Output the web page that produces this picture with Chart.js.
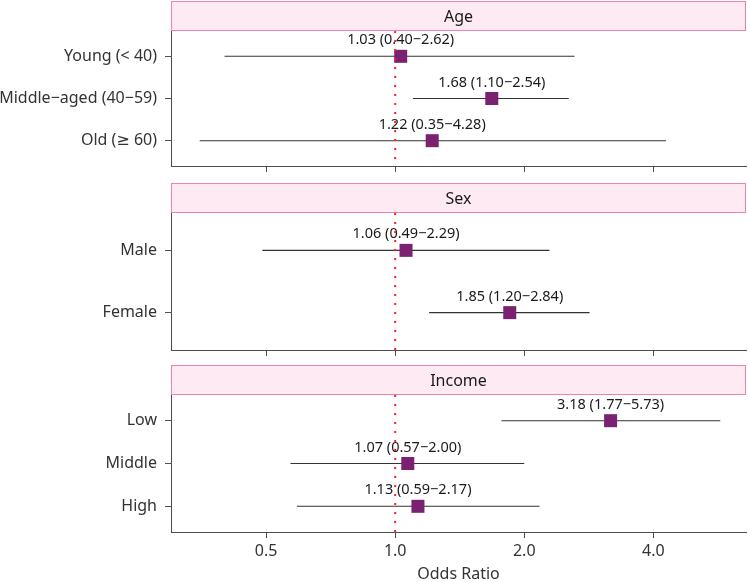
<!DOCTYPE html>
<html>
<head>
<meta charset="utf-8">
<script src="https://cdn.jsdelivr.net/npm/chart.js@4.4.1/dist/chart.umd.min.js"></script>
<style>
html,body{margin:0;padding:0;background:#fff;}
#wrap{position:relative;width:748px;height:582px;overflow:hidden;}
canvas{position:absolute;left:0;}
</style>
</head>
<body>
<div id="wrap">
<canvas id="c1" style="top:0px" width="748" height="176"></canvas>
<canvas id="c2" style="top:182px" width="748" height="178"></canvas>
<canvas id="c3" style="top:364px" width="748" height="218"></canvas>
</div>
<script>
// ---- Data ----
const panelTitles = ["Age", "Sex", "Income"];

const ageLabels = ["Young (< 40)", "Middle\u2212aged (40\u221259)", "Old (\u2265 60)"];
const ageOR = [1.03, 1.68, 1.22];
const ageLo = [0.40, 1.10, 0.35];
const ageHi = [2.62, 2.54, 4.28];

const sexLabels = ["Male", "Female"];
const sexOR = [1.06, 1.85];
const sexLo = [0.49, 1.20];
const sexHi = [2.29, 2.84];

const incomeLabels = ["Low", "Middle", "High"];
const incomeOR = [3.18, 1.07, 1.13];
const incomeLo = [1.77, 0.57, 0.59];
const incomeHi = [5.73, 2.00, 2.17];

const xTickValues = [0.5, 1.0, 2.0, 4.0];
const refValue = 1.0;
const xTitle = "Odds Ratio";

// ---- Styling ----
const FONT = "'Noto Sans', 'DejaVu Sans', sans-serif";
Chart.defaults.font.family = FONT;
const AXIS_COLOR = '#4d4d4d';
const TEXT_COLOR = '#333333';
const POINT_COLOR = '#7a2270';

const stripPlugin = {
  id: 'strip',
  afterDraw(chart, args, opts) {
    const {ctx, chartArea} = chart;
    const h = 30;
    const x = chartArea.left, y = chartArea.top - h, w = chartArea.right - chartArea.left;
    ctx.save();
    ctx.fillStyle = '#fdeaf3';
    ctx.fillRect(x, y, w, h);
    ctx.strokeStyle = '#f07fb3';
    ctx.lineWidth = 1;
    ctx.strokeRect(x + 0.5, y + 0.5, w - 1, h - 1);
    ctx.fillStyle = '#1a1a1a';
    ctx.font = "16px " + FONT;
    ctx.textAlign = 'center';
    ctx.textBaseline = 'middle';
    ctx.fillText(opts.title, x + w / 2, y + h / 2 + 1);
    ctx.restore();
  }
};

const labelPlugin = {
  id: 'orLabels',
  afterDatasetDraw(chart, args) {
    const ds = chart.data.datasets[args.index];
    if (ds.label !== 'or') return;
    const {ctx} = chart;
    ctx.save();
    ctx.fillStyle = '#1a1a1a';
    ctx.font = "14.5px " + FONT;
    ctx.textAlign = 'center';
    ctx.textBaseline = 'middle';
    args.meta.data.forEach((el, i) => {
      ctx.fillText(ds.texts[i], el.x, el.y - 16);
    });
    ctx.restore();
  }
};

function fmt(v) { return v.toFixed(2); }

function makePanel(id, title, labels, or, lo, hi, isBottom) {
  const n = labels.length;
  const yMin = 0.4, yMax = n + 0.6;
  const datasets = [];
  for (let i = 0; i < n; i++) {
    datasets.push({
      label: 'ci' + i,
      data: [{x: lo[i], y: i + 1}, {x: hi[i], y: i + 1}],
      showLine: true, borderColor: '#333333', borderWidth: 1.1,
      pointRadius: 0, order: 4
    });
  }
  datasets.push({
    label: 'or',
    data: or.map((v, i) => ({x: v, y: i + 1})),
    texts: or.map((v, i) => `${fmt(v)} (${fmt(lo[i])}\u2212${fmt(hi[i])})`),
    pointStyle: 'rect', pointRadius: 9.2, backgroundColor: POINT_COLOR,
    borderWidth: 0, showLine: false, order: 3
  });
  datasets.push({
    label: 'ref',
    data: [{x: refValue, y: yMin}, {x: refValue, y: yMax}],
    showLine: true, borderColor: '#ff2020', borderWidth: 2, borderDash: [2, 7],
    pointRadius: 0, order: 2
  });

  return new Chart(document.getElementById(id), {
    type: 'scatter',
    data: {datasets},
    plugins: [stripPlugin, labelPlugin],
    options: {
      responsive: false,
      animation: false,
      events: [],
      devicePixelRatio: 1,
      layout: {autoPadding: false, padding: {top: 31, right: 2, left: 0, bottom: 0}},
      plugins: {
        legend: {display: false},
        tooltip: {enabled: false},
        strip: {title}
      },
      scales: {
        x: {
          type: 'logarithmic',
          min: 0.303, max: 6.58,
          afterBuildTicks: (s) => { s.ticks = xTickValues.map(v => ({value: v})); },
          afterFit: (s) => { s.height = isBottom ? 50 : 10; s.paddingLeft = 0; s.paddingRight = 0; s.paddingTop = 0; s.paddingBottom = 0; },
          grid: {drawOnChartArea: false, drawTicks: true, tickLength: 6, color: AXIS_COLOR, tickColor: AXIS_COLOR},
          border: {display: true, color: AXIS_COLOR, width: 1},
          ticks: {
            color: isBottom ? TEXT_COLOR : 'rgba(0,0,0,0)',
            font: {size: 16},
            padding: 4,
            maxRotation: 0,
            autoSkip: false,
            callback: (v) => Number(v).toFixed(1)
          },
          title: {
            display: isBottom, text: xTitle, color: TEXT_COLOR,
            font: {size: 16}, padding: {top: 0, bottom: -2}
          }
        },
        y: {
          type: 'linear',
          reverse: true,
          min: yMin, max: yMax,
          afterBuildTicks: (s) => { s.ticks = labels.map((l, i) => ({value: i + 1})); },
          afterFit: (s) => { s.width = 171; s.paddingTop = 0; s.paddingBottom = 0; s.paddingLeft = 0; s.paddingRight = 0; },
          grid: {drawOnChartArea: false, drawTicks: true, tickLength: 6, color: AXIS_COLOR, tickColor: AXIS_COLOR},
          border: {display: true, color: AXIS_COLOR, width: 1},
          ticks: {
            color: TEXT_COLOR,
            font: {size: 16},
            padding: 8,
            autoSkip: false,
            callback: (v) => labels[Math.round(v) - 1] || ''
          }
        }
      }
    }
  });
}

makePanel('c1', panelTitles[0], ageLabels, ageOR, ageLo, ageHi, false);
makePanel('c2', panelTitles[1], sexLabels, sexOR, sexLo, sexHi, false);
makePanel('c3', panelTitles[2], incomeLabels, incomeOR, incomeLo, incomeHi, true);
</script>
</body>
</html>
